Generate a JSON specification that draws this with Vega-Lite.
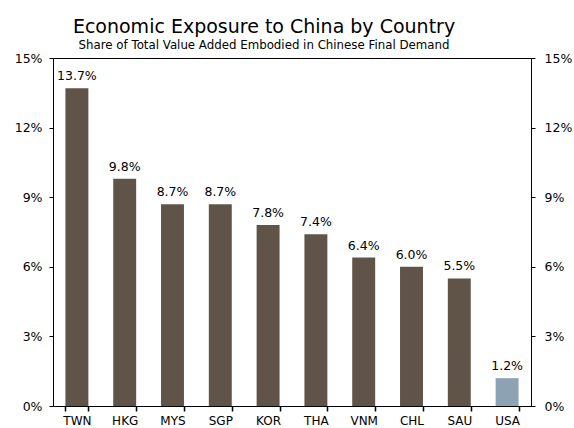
{
  "$schema": "https://vega.github.io/schema/vega-lite/v6.json",
  "width": 478,
  "height": 348,
  "autosize": {"type": "none"},
  "padding": {"left": 53, "top": 58, "right": 43, "bottom": 22},
  "background": "white",
  "title": {
    "text": "Economic Exposure to China by Country",
    "subtitle": "Share of Total Value Added Embodied in Chinese Final Demand",
    "anchor": "middle",
    "dx": -28,
    "font": "DejaVu Sans",
    "fontSize": 19,
    "fontWeight": "normal",
    "color": "black",
    "subtitleFont": "DejaVu Sans",
    "subtitleFontSize": 11.8,
    "subtitleColor": "black",
    "subtitlePadding": 3,
    "offset": 0
  },
  "data": {
    "values": [
      {"country": "TWN", "value": 13.7, "label": "13.7%", "group": "other"},
      {"country": "HKG", "value": 9.8, "label": "9.8%", "group": "other"},
      {"country": "MYS", "value": 8.7, "label": "8.7%", "group": "other"},
      {"country": "SGP", "value": 8.7, "label": "8.7%", "group": "other"},
      {"country": "KOR", "value": 7.8, "label": "7.8%", "group": "other"},
      {"country": "THA", "value": 7.4, "label": "7.4%", "group": "other"},
      {"country": "VNM", "value": 6.4, "label": "6.4%", "group": "other"},
      {"country": "CHL", "value": 6.0, "label": "6.0%", "group": "other"},
      {"country": "SAU", "value": 5.5, "label": "5.5%", "group": "other"},
      {"country": "USA", "value": 1.2, "label": "1.2%", "group": "usa"}
    ]
  },
  "layer": [
    {
      "mark": {"type": "bar"},
      "encoding": {
        "x": {
          "field": "country",
          "type": "nominal",
          "sort": null,
          "scale": {"paddingInner": 0.52, "paddingOuter": 0.26},
          "axis": {
            "title": null,
            "labelAngle": 0,
            "ticks": true,
            "tickBand": "extent",
            "tickSize": 5,
            "tickWidth": 1.5,
            "tickRound": true,
            "labelPadding": 4,
            "labelFontSize": 12,
            "labelFont": "DejaVu Sans",
            "labelColor": "black",
            "domainColor": "black",
            "tickColor": "#000000"
          }
        },
        "y": {
          "field": "value",
          "type": "quantitative",
          "scale": {"domain": [0, 15]},
          "axis": {
            "title": null,
            "values": [0, 3, 6, 9, 12, 15],
            "labelExpr": "datum.value + '%'",
            "grid": false,
            "tickSize": 4,
            "labelPadding": 7,
            "labelFontSize": 12.5,
            "labelFont": "DejaVu Sans",
            "labelColor": "black",
            "domainColor": "black",
            "tickColor": "black"
          }
        },
        "color": {
          "field": "group",
          "type": "nominal",
          "scale": {"domain": ["other", "usa"], "range": ["#5f5447", "#8da3b3"]},
          "legend": null
        }
      }
    },
    {
      "mark": {"type": "text", "baseline": "bottom", "dy": -5, "font": "DejaVu Sans", "fontSize": 12.5, "color": "black"},
      "encoding": {
        "x": {"field": "country", "type": "nominal", "sort": null},
        "y": {
          "field": "value",
          "type": "quantitative",
          "scale": {"domain": [0, 15]},
          "axis": {
            "orient": "right",
            "title": null,
            "values": [0, 3, 6, 9, 12, 15],
            "labelExpr": "datum.value + '%'",
            "grid": false,
            "tickSize": 4,
            "labelPadding": 9,
            "labelFontSize": 12.5,
            "labelFont": "DejaVu Sans",
            "labelColor": "black",
            "domainColor": "black",
            "tickColor": "black"
          }
        },
        "text": {"field": "label", "type": "nominal"}
      }
    }
  ],
  "resolve": {"scale": {"y": "independent"}},
  "config": {
    "view": {"stroke": "black", "strokeWidth": 1}
  }
}
